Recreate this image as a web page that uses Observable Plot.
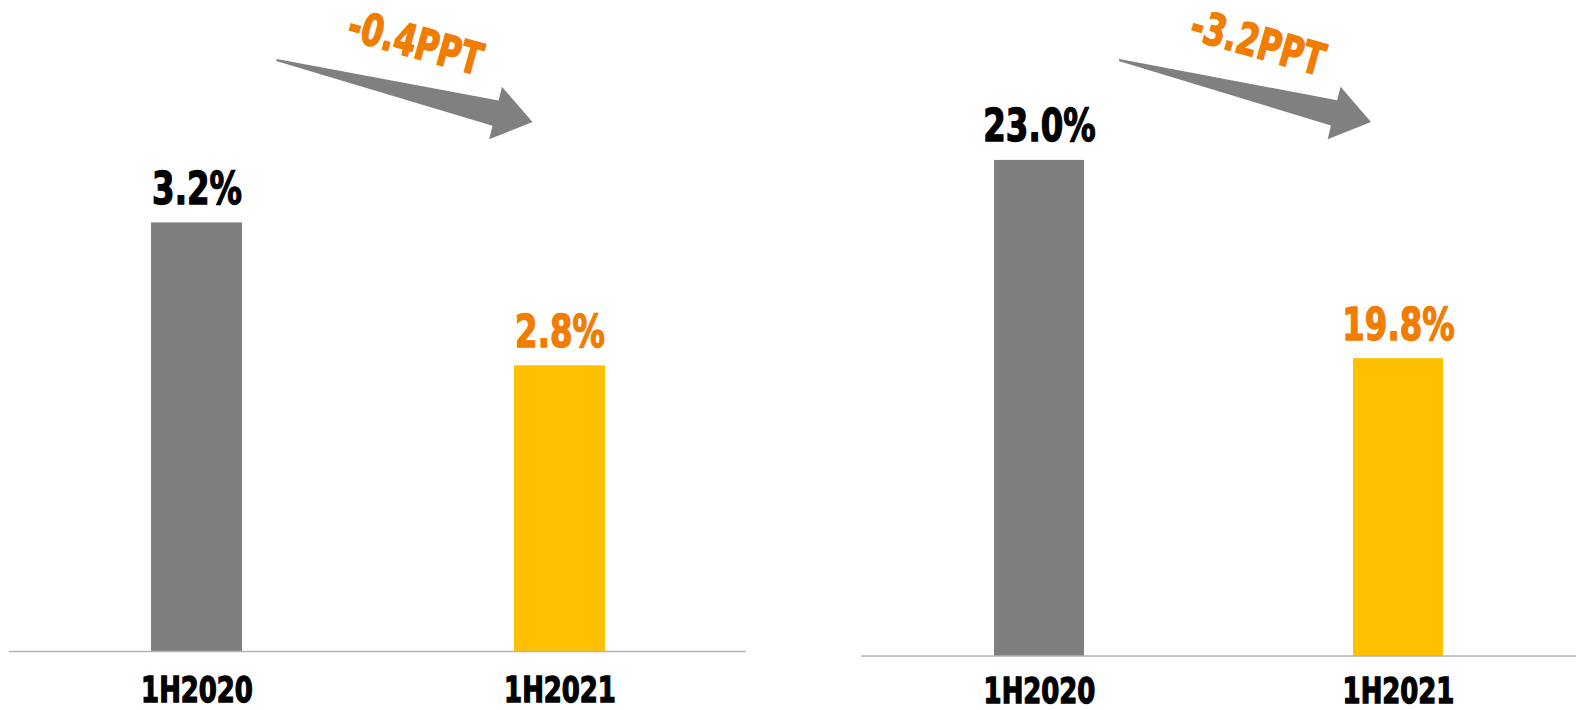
<!DOCTYPE html>
<html>
<head>
<meta charset="utf-8">
<script src="https://cdn.jsdelivr.net/npm/d3@7"></script>
<script src="https://cdn.jsdelivr.net/npm/@observablehq/plot@0.6"></script>
<style>
  html, body { margin: 0; padding: 0; background: #fff; }
  #wrap { position: relative; width: 1576px; height: 710px; overflow: hidden; }
  #wrap svg { position: absolute; top: 0; }
  #wrap svg text { font-stretch: condensed; }
</style>
</head>
<body>
<div id="wrap"></div>
<script>
// ---- data ----
const categories = ["1H2020", "1H2021"];
const barColors = ["#7F7F7F", "#FFC000"];
const labelColors = ["#000000", "#F07C00"];
const leftValues = [3.2, 2.8];
const rightValues = [23.0, 19.8];
const leftChange = "-0.4PPT";
const rightChange = "-3.2PPT";
const leftDomain = [2, 3.4];
const rightDomain = [15, 25];

const FONT = "'DejaVu Sans Condensed', 'DejaVu Sans', sans-serif";
const ORANGE = "#F07C00";

function arrowMark(changeText) {
  return (index, scales, values, dimensions) => {
    const x = scales.x;
    const bw = x.bandwidth ? x.bandwidth() : 0;
    const x0 = x(categories[0]) + bw / 2 + 80, y0 = 60;
    const x1 = x(categories[1]) + bw / 2 - 27, y1 = 122;
    const dx = x1 - x0, dy = y1 - y0, L = Math.hypot(dx, dy);
    const ux = dx / L, uy = dy / L, nx = -uy, ny = ux;
    const pt = (a, p) => [x0 + ux * a + nx * p, y0 + uy * a + ny * p];
    const pts = [pt(0, -1), pt(L - 38, -13), pt(L - 38, -27), pt(L, 0), pt(L - 38, 27), pt(L - 38, 13), pt(0, 1)];
    const g = d3.create("svg:g");
    g.append("path").attr("d", "M" + pts.map(p => p.join(",")).join("L") + "Z").attr("fill", "#808080");
    const angle = Math.atan2(dy, dx) * 180 / Math.PI + 2;
    g.append("text")
      .attr("transform", `translate(${x0 + 138},${y0 - 14}) rotate(${angle}) scale(0.8,1)`)
      .attr("text-anchor", "middle")
      .attr("dominant-baseline", "middle")
      .attr("font-family", FONT)
      .attr("font-weight", "bold")
      .attr("font-size", 44)
      .attr("fill", ORANGE)
      .attr("stroke", ORANGE)
      .attr("stroke-width", 1.4)
      .text(changeText);
    return g.node();
  };
}

function squeeze(svg, k) {
  // narrow and thicken the bold labels to mimic the heavy condensed display face
  svg.querySelectorAll("g[aria-label='text'] text, g[aria-label='x-axis tick label'] text").forEach(t => {
    const tr = t.getAttribute("transform") || "";
    t.setAttribute("transform", tr + ` scale(${k},1)`);
    t.setAttribute("stroke", getComputedStyle(t).fill || "#000");
    t.setAttribute("stroke-width", 1.3);
  });
}

function panel({values, domain, change, left, width, marginLeft, marginRight, marginTop, marginBottom, paddingOuter, ruleColor, ruleWidth, tickPadding}) {
  const data = categories.map((c, i) => ({cat: c, value: values[i], fill: barColors[i], label: labelColors[i]}));
  const svg = Plot.plot({
    width, height: 710,
    marginLeft, marginRight, marginTop, marginBottom,
    style: {fontFamily: FONT, background: "transparent", overflow: "visible"},
    x: {domain: categories, paddingInner: 0.75, paddingOuter, axis: null},
    y: {domain, axis: null},
    color: {type: "identity"},
    marks: [
      Plot.barY(data, {x: "cat", y1: domain[0], y2: "value", fill: "fill"}),
      Plot.ruleY([domain[0]], {stroke: ruleColor, strokeWidth: ruleWidth}),
      Plot.text(data, {x: "cat", y: "value", text: d => d3.format(".1f")(d.value) + "%", fill: "label",
        lineAnchor: "bottom", dy: -19, fontSize: 45, fontWeight: "bold"}),
      Plot.axisX({tickSize: 0, tickPadding, fontSize: 36, fontWeight: "bold", color: "#000", label: null}),
      arrowMark(change)
    ]
  });
  svg.style.left = left + "px";
  document.getElementById("wrap").appendChild(svg);
  squeeze(svg, 0.8);
}

panel({values: leftValues, domain: leftDomain, change: leftChange, left: 0, width: 790,
  marginLeft: 9, marginRight: 44, marginTop: 151, marginBottom: 59, paddingOuter: 0.39,
  ruleColor: "#B3B3B3", ruleWidth: 1.5, tickPadding: 25});
panel({values: rightValues, domain: rightDomain, change: rightChange, left: 790, width: 786,
  marginLeft: 71, marginRight: 0, marginTop: 36, marginBottom: 54.5, paddingOuter: 0.37,
  ruleColor: "#8C8C8C", ruleWidth: 1, tickPadding: 21});
</script>
</body>
</html>
